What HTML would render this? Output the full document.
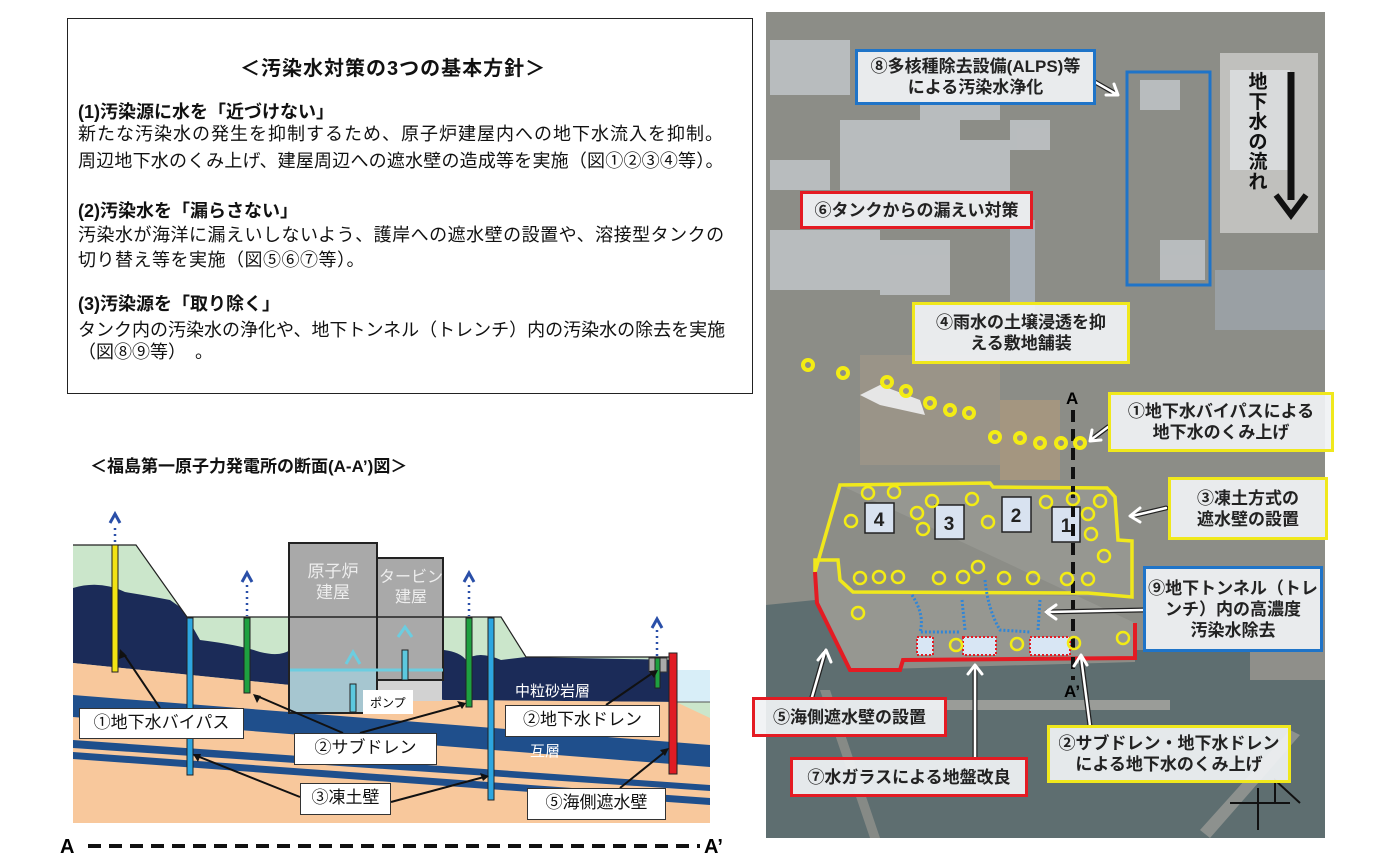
<!DOCTYPE html>
<html><head><meta charset="utf-8">
<style>
body{margin:0;width:1380px;height:858px;background:#fff;position:relative;overflow:hidden;font-family:"Liberation Sans","Noto Sans CJK JP",sans-serif;color:#111}
.a{position:absolute;white-space:nowrap}
.tb{position:absolute;left:67px;top:18px;width:684px;height:374px;border:1px solid #222}
.t{font-size:18px;line-height:21px}
.b{font-weight:bold}
.lb{position:absolute;background:rgba(240,242,244,0.93);border:3px solid;font-weight:bold;font-size:17px;line-height:21px;text-align:center;box-sizing:border-box;display:flex;flex-direction:column;justify-content:center;color:#222}
.cl{position:absolute;background:#fff;border:1px solid #333;font-size:17px;text-align:center;box-sizing:border-box;line-height:28px}
</style></head><body>
<div class="tb"></div>
<div class="a b" style="left:240px;top:52px;font-size:20px;letter-spacing:1px">＜汚染水対策の3つの基本方針＞</div>
<div class="a t b" style="left:78px;top:102px">(1)汚染源に水を「近づけない」</div>
<div class="a t" style="left:78px;top:124px;letter-spacing:1px">新たな汚染水の発生を抑制するため、原子炉建屋内への地下水流入を抑制。</div>
<div class="a t" style="left:78px;top:151px;letter-spacing:0.2px">周辺地下水のくみ上げ、建屋周辺への遮水壁の造成等を実施（図①②③④等）。</div>
<div class="a t b" style="left:78px;top:201px">(2)汚染水を「漏らさない」</div>
<div class="a t" style="left:78px;top:225px;letter-spacing:0.5px">汚染水が海洋に漏えいしないよう、護岸への遮水壁の設置や、溶接型タンクの</div>
<div class="a t" style="left:78px;top:250px;letter-spacing:0.5px">切り替え等を実施（図⑤⑥⑦等）。</div>
<div class="a t b" style="left:78px;top:294px">(3)汚染源を「取り除く」</div>
<div class="a t" style="left:78px;top:320px">タンク内の汚染水の浄化や、地下トンネル（トレンチ）内の汚染水の除去を実施</div>
<div class="a t" style="left:78px;top:342px">（図⑧⑨等）　。</div>
<div class="a b" style="left:90px;top:452px;font-size:17px">＜福島第一原子力発電所の断面(A-A’)図＞</div>

<svg class="a" style="left:0;top:0" width="1380" height="858">
<polygon points="73,545 136,545 187,617 501,617 526,657 676,657 676,823 73,823" fill="#cbe6cb"/>
<rect x="676" y="670" width="34" height="32" fill="#d8eef8"/>
<rect x="676" y="702" width="34" height="121" fill="#cbe6cb"/>
<path d="M73,588 Q100,580 125,592 Q150,596 170,600 L180,607 L187,617 L200,640 Q240,645 260,652 Q280,657 290,650 L290,665 L444,665 L444,650 Q460,652 466,660 Q478,650 501,660 L526,657 L676,660 L676,702 L444,700 L290,685 L73,663Z" fill="#1b2b58"/>
<polygon points="73,663 290,685 444,700 676,702 710,718 710,823 73,823" fill="#f8c89c"/>
<polygon points="73,695 710,745 710,767 73,717" fill="#1f4f8c"/>
<polygon points="73,740 710,785 710,791 73,748" fill="#1f4f8c"/>
<polygon points="73,752 710,798 710,805 73,759" fill="#1f4f8c"/>
<polyline points="73,545 136,545 187,617 501,617 526,657 676,657" fill="none" stroke="#222" stroke-width="1.2"/>
<line x1="676" y1="702" x2="710" y2="702" stroke="#555"/>
<rect x="289" y="543" width="88" height="170" fill="#a9a9a9" stroke="#222" stroke-width="2"/>
<rect x="377" y="558" width="66" height="122" fill="#a9a9a9" stroke="#222" stroke-width="2"/>
<rect x="290" y="670" width="86" height="42" fill="#a6c6d0"/>
<rect x="378" y="681" width="64" height="20" fill="#d2d2d2"/>
<line x1="290" y1="670" x2="443" y2="670" stroke="#6ccde0" stroke-width="3"/>
<line x1="289" y1="617" x2="443" y2="617" stroke="#222" stroke-width="1.5"/>
<rect x="350" y="684" width="6" height="28" fill="#5cc8de" stroke="#222"/>
<rect x="402" y="650" width="6" height="30" fill="#5cc8de" stroke="#222"/>
<path d="M346,664 L353,652 L360,664" fill="none" stroke="#6ccde0" stroke-width="3"/>
<path d="M398,637 L405,627 L412,637" fill="none" stroke="#6ccde0" stroke-width="3"/>
<text x="333" y="577" fill="#eee" font-size="17" text-anchor="middle">原子炉</text>
<text x="333" y="598" fill="#eee" font-size="17" text-anchor="middle">建屋</text>
<text x="411" y="582" fill="#eee" font-size="16" text-anchor="middle">タービン</text>
<text x="411" y="602" fill="#eee" font-size="16" text-anchor="middle">建屋</text>
<rect x="363" y="690" width="50" height="24" fill="#fff"/>
<text x="370" y="707" font-size="12">ポンプ</text>
<rect x="112" y="545" width="6" height="127" fill="#f2e313" stroke="#222"/>
<rect x="187" y="618" width="6" height="157" fill="#2da6e0" stroke="#222"/>
<rect x="244" y="618" width="6" height="75" fill="#1ea040" stroke="#222"/>
<rect x="466" y="618" width="6" height="89" fill="#1ea040" stroke="#222"/>
<rect x="488" y="618" width="6" height="182" fill="#2da6e0" stroke="#222"/>
<rect x="649" y="658" width="18" height="14" fill="#aaa" stroke="#333"/>
<rect x="655" y="658" width="5" height="30" fill="#1ea040" stroke="#222"/>
<rect x="669" y="653" width="8" height="121" fill="#e01c24" stroke="#222"/>
<g stroke="#2a4fa8" stroke-width="2.5" stroke-dasharray="2,4" fill="none">
<line x1="115" y1="528" x2="115" y2="544"/><line x1="247" y1="585" x2="247" y2="616"/><line x1="469" y1="585" x2="469" y2="616"/><line x1="657" y1="630" x2="657" y2="657"/></g>
<g stroke="#2a4fa8" stroke-width="3" fill="none">
<path d="M110,523 L115,514 L120,523"/><path d="M242,582 L247,573 L252,582"/><path d="M464,582 L469,573 L474,582"/><path d="M652,628 L657,619 L662,628"/></g>
<text x="515" y="696" fill="#fff" font-size="15">中粒砂岩層</text>
<text x="530" y="756" fill="#fff" font-size="15">互層</text>
<g stroke="#111" stroke-width="2" fill="none">
<line x1="160" y1="708" x2="123" y2="653"/><line x1="343" y1="733" x2="257" y2="696"/><line x1="360" y1="733" x2="462" y2="705"/><line x1="606" y1="705" x2="654" y2="672"/>
<line x1="300" y1="797" x2="197" y2="756"/><line x1="391" y1="802" x2="484" y2="777"/><line x1="620" y1="788" x2="666" y2="751"/></g>
<g fill="#111"><path d="M120,649 l-1,10 l8,-3z"/><path d="M253,694 l4,9 l4,-7z"/><path d="M466,703 l-9,-2 l5,8z"/><path d="M658,670 l-9,1 l5,7z"/><path d="M193,754 l5,8 l3,-8z"/><path d="M489,776 l-9,-3 l3,8z"/><path d="M669,748 l-9,2 l5,6z"/></g>
<line x1="88" y1="846" x2="700" y2="846" stroke="#111" stroke-width="4" stroke-dasharray="13,8"/>
<text x="60" y="853" font-size="20" font-weight="bold">A</text>
<text x="704" y="853" font-size="20" font-weight="bold">A’</text>

<rect x="766" y="12" width="559" height="826" fill="#8c8d87"/>
<g fill="#c4c8cc" opacity="0.8">
<rect x="770" y="40" width="80" height="55"/><rect x="840" y="120" width="120" height="70"/><rect x="920" y="80" width="80" height="40"/>
<rect x="770" y="160" width="60" height="30"/><rect x="770" y="230" width="110" height="60"/><rect x="880" y="240" width="70" height="55"/>
<rect x="960" y="140" width="50" height="60"/><rect x="1010" y="120" width="40" height="30"/><rect x="1140" y="80" width="40" height="30"/>
<rect x="1160" y="240" width="45" height="40"/><rect x="1230" y="70" width="60" height="100"/></g>
<rect x="1010" y="220" width="25" height="120" fill="#a8b0b8"/>
<rect x="1215" y="270" width="110" height="60" fill="#9aa0a4"/>
<rect x="860" y="355" width="140" height="110" fill="#9a9488"/>
<path d="M860,395 L880,385 L920,400 L925,415 L880,405Z" fill="#e6e6e6"/>
<rect x="1000" y="400" width="60" height="80" fill="#a49680"/>
<polygon points="766,605 815,600 850,670 1135,662 1135,650 1325,650 1325,838 766,838" fill="#5e6e70"/>
<rect x="920" y="700" width="250" height="10" fill="#9a9c98"/>
<path d="M1200,830 L1290,730 L1300,735 L1210,838Z" fill="#8d918e"/>
<path d="M820,690 L870,838 L880,838 L830,690Z" fill="#868a86"/>
<rect x="1250" y="650" width="75" height="30" fill="#8f8f8a"/>
<polygon points="840,485 990,483 993,487 1107,488 1115,497 1118,540 1132,541 1132,597 853,592 840,580 838,560 815,560 815,572 817,603 850,670 900,670 903,660 1135,658 1135,623" fill="#9fa19c" opacity="0.5"/>
<polygon points="840,485 990,483 993,487 1107,488 1115,497 1118,540 1132,541 1132,597 1088,593 853,592 840,580 838,560 815,560 815,572" fill="none" stroke="#f0e81c" stroke-width="3.5"/>
<polyline points="815,572 817,603 850,670 900,670 903,660 1135,658 1135,623" fill="none" stroke="#e41b23" stroke-width="4"/>
<g fill="#d8e2f0" stroke="#222" stroke-width="1.5">
<rect x="865" y="503" width="29" height="30"/><rect x="935" y="505" width="29" height="34"/><rect x="1002" y="497" width="29" height="35"/><rect x="1052" y="507" width="28" height="35"/></g>
<g font-size="19" font-weight="bold" fill="#222" text-anchor="middle"><text x="879" y="526">4</text><text x="949" y="530">3</text><text x="1016" y="522">2</text><text x="1066" y="532">1</text></g>
<g fill="#d8e6f4" stroke="#e41b23" stroke-width="2" stroke-dasharray="2,2"><rect x="917" y="637" width="16" height="18"/><rect x="963" y="637" width="33" height="18"/><rect x="1030" y="637" width="40" height="18"/></g>
<g fill="none" stroke="#2f86d8" stroke-width="3" stroke-dasharray="2,2">
<path d="M912,595 Q925,615 920,632 L960,632"/><path d="M962,600 L965,630"/><path d="M985,580 Q988,610 1000,630 L1030,632"/><path d="M1040,600 L1038,630"/></g>
<line x1="1073" y1="410" x2="1073" y2="680" stroke="#111" stroke-width="4" stroke-dasharray="12,7"/>
<text x="1066" y="404" font-size="17" font-weight="bold">A</text>
<text x="1064" y="697" font-size="17" font-weight="bold">A’</text>
<g fill="none" stroke="#f3ec14" stroke-width="4">
<circle cx="808" cy="365" r="5"/><circle cx="843" cy="373" r="5"/><circle cx="887" cy="382" r="5"/><circle cx="906" cy="391" r="5"/><circle cx="930" cy="403" r="5"/><circle cx="950" cy="410" r="5"/><circle cx="969" cy="413" r="5"/><circle cx="995" cy="437" r="5"/><circle cx="1020" cy="438" r="5"/><circle cx="1040" cy="443" r="5"/><circle cx="1061" cy="443" r="5"/><circle cx="1080" cy="443" r="5"/></g>
<g fill="none" stroke="#f3ec14" stroke-width="2.5">
<circle cx="868" cy="493" r="6"/><circle cx="894" cy="492" r="6"/><circle cx="851" cy="521" r="6"/><circle cx="932" cy="501" r="6"/><circle cx="917" cy="513" r="6"/><circle cx="923" cy="529" r="6"/><circle cx="972" cy="499" r="6"/><circle cx="988" cy="522" r="6"/><circle cx="1046" cy="502" r="6"/><circle cx="1073" cy="499" r="6"/><circle cx="1100" cy="501" r="6"/><circle cx="1088" cy="514" r="6"/><circle cx="1091" cy="534" r="6"/><circle cx="1104" cy="556" r="6"/><circle cx="860" cy="578" r="6"/><circle cx="879" cy="577" r="6"/><circle cx="898" cy="577" r="6"/><circle cx="939" cy="578" r="6"/><circle cx="963" cy="577" r="6"/><circle cx="978" cy="567" r="6"/><circle cx="1004" cy="578" r="6"/><circle cx="1033" cy="578" r="6"/><circle cx="1067" cy="579" r="6"/><circle cx="1088" cy="579" r="6"/><circle cx="858" cy="613" r="6"/><circle cx="956" cy="645" r="6"/><circle cx="1017" cy="644" r="6"/><circle cx="1074" cy="643" r="6"/><circle cx="1123" cy="638" r="6"/></g>
<rect x="1127" y="72" width="83" height="213" fill="none" stroke="#1f74c8" stroke-width="3"/>
<rect x="1220" y="53" width="98" height="180" fill="#fff" opacity="0.45"/>
<line x1="1291" y1="72" x2="1291" y2="200" stroke="#111" stroke-width="7"/>
<path d="M1276,195 L1291,215 L1306,195" fill="none" stroke="#111" stroke-width="6"/>
<g font-size="19" font-weight="bold" text-anchor="middle" fill="#111"><text x="1258" y="88">地</text><text x="1258" y="108">下</text><text x="1258" y="128">水</text><text x="1258" y="148">の</text><text x="1258" y="168">流</text><text x="1258" y="188">れ</text></g>
<g stroke="#222" stroke-width="5" fill="none" stroke-linecap="round"><line x1="1095" y1="82" x2="1116" y2="94"/><line x1="1108" y1="427" x2="1092" y2="439"/><line x1="1166" y1="508" x2="1132" y2="516"/><line x1="1143" y1="610" x2="1047" y2="612"/><line x1="812" y1="697" x2="825" y2="652"/><line x1="975" y1="758" x2="975" y2="667"/><line x1="1090" y1="726" x2="1081" y2="657"/></g>
<g stroke="#fff" stroke-width="2.5" fill="none" stroke-linecap="round"><line x1="1095" y1="82" x2="1116" y2="94"/><line x1="1108" y1="427" x2="1092" y2="439"/><line x1="1166" y1="508" x2="1132" y2="516"/><line x1="1143" y1="610" x2="1047" y2="612"/><line x1="812" y1="697" x2="825" y2="652"/><line x1="975" y1="758" x2="975" y2="667"/><line x1="1090" y1="726" x2="1081" y2="657"/></g>
<g stroke="#fff" stroke-width="3" fill="none" stroke-linecap="round" stroke-linejoin="round">
<path d="M1106,95 L1118,95 L1114,84"/><path d="M1092,430 L1090,441 L1101,440"/><path d="M1140,508 L1130,516 L1140,522"/><path d="M1056,605 L1046,612 L1056,619"/><path d="M818,660 L826,650 L831,662"/><path d="M968,674 L975,665 L982,674"/><path d="M1074,666 L1081,655 L1087,665"/></g>
<g stroke="#111" stroke-width="2" fill="none"><line x1="1230" y1="803" x2="1290" y2="803"/><line x1="1258" y1="788" x2="1258" y2="830"/><path d="M1275,803 L1275,780 L1300,803"/></g>
</svg>
<div class="lb" style="left:855px;top:49px;width:241px;height:56px;border-color:#1f74c8">⑧多核種除去設備(ALPS)等<br>による汚染水浄化</div>
<div class="lb" style="left:800px;top:191px;width:233px;height:38px;border-color:#e41b23">⑥タンクからの漏えい対策</div>
<div class="lb" style="left:912px;top:302px;width:218px;height:62px;border-color:#f0e81c">④雨水の土壌浸透を抑<br>える敷地舗装</div>
<div class="lb" style="left:1108px;top:392px;width:226px;height:60px;border-color:#f0e81c">①地下水バイパスによる<br>地下水のくみ上げ</div>
<div class="lb" style="left:1168px;top:477px;width:160px;height:63px;border-color:#f0e81c">③凍土方式の<br>遮水壁の設置</div>
<div class="lb" style="left:1143px;top:566px;width:180px;height:86px;border-color:#1f74c8">⑨地下トンネル（トレ<br>ンチ）内の高濃度<br>汚染水除去</div>
<div class="lb" style="left:752px;top:697px;width:195px;height:40px;border-color:#e41b23">⑤海側遮水壁の設置</div>
<div class="lb" style="left:790px;top:757px;width:238px;height:40px;border-color:#e41b23">⑦水ガラスによる地盤改良</div>
<div class="lb" style="left:1047px;top:725px;width:244px;height:58px;border-color:#f0e81c">②サブドレン・地下水ドレン<br>による地下水のくみ上げ</div>
<div class="cl" style="left:79px;top:708px;width:165px;height:31px">①地下水バイパス</div>
<div class="cl" style="left:294px;top:733px;width:143px;height:32px">②サブドレン</div>
<div class="cl" style="left:505px;top:705px;width:155px;height:32px">②地下水ドレン</div>
<div class="cl" style="left:300px;top:783px;width:91px;height:32px">③凍土壁</div>
<div class="cl" style="left:527px;top:788px;width:139px;height:32px">⑤海側遮水壁</div>
</body></html>
